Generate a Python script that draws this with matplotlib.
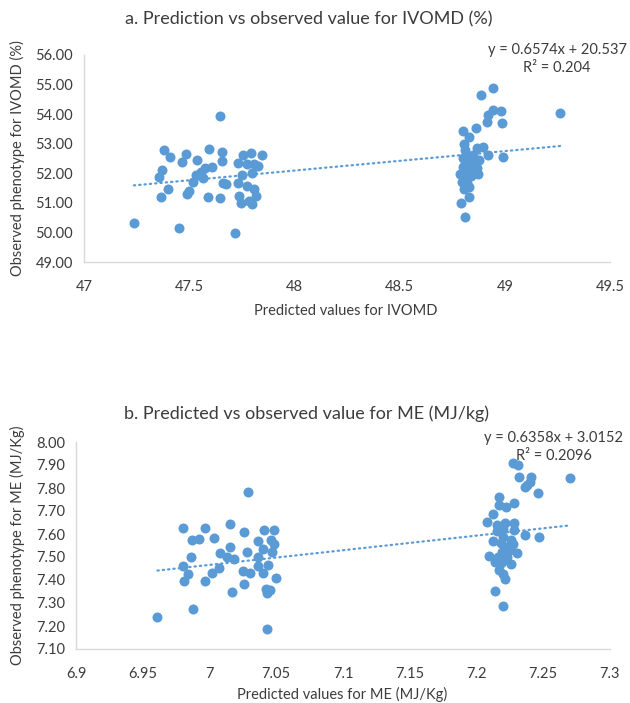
import numpy as np
from matplotlib import pyplot as plt
from matplotlib.ticker import FormatStrFormatter

# --- panel a: IVOMD (%) ---
ivomd_pred = [47.237, 47.451, 47.72, 47.645, 47.38, 47.41, 47.486, 47.464, 47.537, 47.592,
              47.655, 47.655, 47.606, 47.573, 47.557, 47.372, 47.355, 47.533, 47.565, 47.518,
              47.40, 47.497, 47.491, 47.366, 47.589, 47.645, 47.661, 47.676, 47.734, 47.758,
              47.794, 47.848, 47.773, 47.81, 47.825, 47.798, 47.751, 47.732, 47.775, 47.806,
              47.819, 47.739, 47.747, 47.786, 47.799,
              48.943, 48.888, 48.943, 48.981, 48.922, 48.914, 48.985, 49.263, 48.80, 48.861,
              48.828, 48.806, 48.812, 48.867, 48.895, 48.919, 48.993, 48.799, 48.848, 48.875,
              48.809, 48.836, 48.867, 48.788, 48.828, 48.872, 48.796, 48.82, 48.832, 48.807,
              48.831, 48.79, 48.809,
              48.82, 48.83, 48.85, 48.81, 48.84, 48.86, 48.80, 48.83, 48.84, 48.815]
ivomd_obs = [50.33, 50.14, 49.99, 53.94, 52.79, 52.56, 52.65, 52.38, 52.45, 52.81,
             52.71, 52.43, 52.22, 52.19, 52.05, 52.11, 51.88, 51.94, 51.85, 51.72,
             51.48, 51.41, 51.30, 51.19, 51.21, 51.16, 51.68, 51.63, 52.36, 52.61,
             52.68, 52.62, 52.31, 52.31, 52.25, 52.02, 51.94, 51.66, 51.58, 51.47,
             51.24, 51.24, 50.98, 51.06, 50.96,
             54.87, 54.65, 54.14, 54.11, 53.97, 53.74, 53.69, 54.03, 53.44, 53.52,
             53.24, 52.98, 52.79, 52.84, 52.90, 52.62, 52.54, 52.51, 52.62, 52.45,
             52.31, 52.22, 52.17, 51.98, 52.00, 51.97, 51.72, 51.66, 51.55, 51.46,
             51.21, 51.01, 50.53,
             52.40, 52.10, 52.30, 51.80, 51.90, 52.00, 52.20, 52.60, 52.50, 51.60]
ivomd_slope, ivomd_icpt = 0.6574, 20.537
ivomd_eq = "y = 0.6574x + 20.537\nR² = 0.204"
ivomd_yticks = [49, 50, 51, 52, 53, 54, 55, 56]
ivomd_xticks = [47, 47.5, 48, 48.5, 49, 49.5]
ivomd_xlabels = ['47', '47.5', '48', '48.5', '49', '49.5']

# --- panel b: ME (MJ/kg) ---
me_pred = [7.0286, 6.980, 6.997, 7.015, 6.987, 6.992, 7.003, 7.026, 7.041, 7.048,
           7.036, 7.046, 7.048, 7.015, 7.008, 6.986, 7.013, 7.018, 7.028, 7.040,
           7.047, 7.036, 6.980, 7.007, 7.036, 7.044, 6.984, 7.002, 7.025, 7.030,
           7.040, 6.981, 6.997, 7.026, 7.050, 7.042, 7.043, 7.045, 7.017, 6.988,
           6.961, 7.043,
           7.227, 7.231, 7.232, 7.241, 7.24, 7.236, 7.238, 7.246, 7.27, 7.217,
           7.217, 7.222, 7.228, 7.212, 7.208, 7.215, 7.221, 7.228, 7.215, 7.228,
           7.236, 7.247, 7.22, 7.226, 7.218, 7.223, 7.227, 7.219, 7.23, 7.209,
           7.216, 7.223, 7.218, 7.221, 7.217, 7.22, 7.221, 7.214, 7.22,
           7.214, 7.225, 7.22, 7.212, 7.226]
me_obs = [7.784, 7.627, 7.627, 7.644, 7.575, 7.579, 7.582, 7.608, 7.616, 7.616,
          7.570, 7.574, 7.556, 7.542, 7.517, 7.501, 7.501, 7.491, 7.52, 7.534,
          7.523, 7.501, 7.462, 7.45, 7.46, 7.465, 7.427, 7.431, 7.439, 7.429,
          7.429, 7.395, 7.396, 7.382, 7.41, 7.359, 7.342, 7.356, 7.346, 7.272,
          7.24, 7.186,
          7.907, 7.90, 7.849, 7.849, 7.827, 7.806, 7.813, 7.777, 7.842, 7.759,
          7.726, 7.716, 7.733, 7.687, 7.65, 7.639, 7.649, 7.646, 7.614, 7.617,
          7.595, 7.587, 7.588, 7.574, 7.559, 7.544, 7.556, 7.523, 7.518, 7.505,
          7.501, 7.501, 7.472, 7.486, 7.443, 7.424, 7.404, 7.35, 7.289,
          7.48, 7.53, 7.62, 7.57, 7.47]
me_slope, me_icpt = 0.6358, 3.0152
me_eq = "y = 0.6358x + 3.0152\nR² = 0.2096"
me_yticks = [7.1, 7.2, 7.3, 7.4, 7.5, 7.6, 7.7, 7.8, 7.9, 8.0]
me_xticks = [6.9, 6.95, 7.0, 7.05, 7.1, 7.15, 7.2, 7.25, 7.3]
me_xlabels = ['6.9', '6.95', '7', '7.05', '7.1', '7.15', '7.2', '7.25', '7.3']

plt.rcParams['font.family'] = ['Lato', 'DejaVu Sans']
blue = '#5B9BD5'
txt = '#3c3c3c'

W, H = 630, 703
fig = plt.figure(figsize=(W / 100, H / 100), dpi=100)


def panel(rect, x, y, slope, icpt, xticks, xlabels, yticks, fmt):
    ax = fig.add_axes(rect)
    ax.scatter(x, y, s=52, color=blue, zorder=3, linewidths=0)
    xs = np.array([min(x), max(x)])
    ax.plot(xs, slope * xs + icpt, color=blue, lw=1.6, linestyle=(0, (0.6, 1.8)),
            dash_capstyle='round', zorder=2)
    ax.set_xlim(xticks[0], xticks[-1])
    ax.set_ylim(yticks[0], yticks[-1])
    ax.set_xticks(xticks)
    ax.set_xticklabels(xlabels)
    ax.set_yticks(yticks)
    ax.yaxis.set_major_formatter(FormatStrFormatter(fmt))
    for s in ['top', 'right']:
        ax.spines[s].set_visible(False)
    for s in ['left', 'bottom']:
        ax.spines[s].set_color('#d9d9d9')
        ax.spines[s].set_linewidth(1)
    ax.tick_params(length=0, labelsize=10.5, colors=txt)
    ax.tick_params(axis='y', pad=8)
    ax.tick_params(axis='x', pad=13)
    return ax


ax1 = panel([84 / W, 1 - 262 / H, (610 - 84) / W, 207 / H],
            ivomd_pred, ivomd_obs, ivomd_slope, ivomd_icpt,
            ivomd_xticks, ivomd_xlabels, ivomd_yticks, '%.2f')
ax2 = panel([76 / W, 1 - 649 / H, (610 - 76) / W, 207 / H],
            me_pred, me_obs, me_slope, me_icpt,
            me_xticks, me_xlabels, me_yticks, '%.2f')

fig.text(309 / W, 1 - 19 / H, "a. Prediction vs observed value for IVOMD (%)",
         ha='center', va='center', fontsize=13, color=txt)
fig.text(306 / W, 1 - 414 / H, "b. Predicted vs observed value for ME (MJ/kg)",
         ha='center', va='center', fontsize=13, color=txt)
fig.text(346 / W, 1 - 311 / H, "Predicted values for IVOMD",
         ha='center', va='center', fontsize=10.5, color=txt)
fig.text(342 / W, 1 - 694 / H, "Predicted values for ME (MJ/Kg)",
         ha='center', va='center', fontsize=10.5, color=txt)
fig.text(17 / W, 1 - 158 / H, "Observed phenotype for IVOMD (%)", rotation=90,
         ha='center', va='center', fontsize=10.5, color=txt)
fig.text(17 / W, 1 - 545 / H, "Observed phenotype for ME (MJ/Kg)", rotation=90,
         ha='center', va='center', fontsize=10.5, color=txt)
fig.text(557 / W, 1 - 59 / H, ivomd_eq, ha='center', va='center', fontsize=10.5,
         color=txt, linespacing=1.35, multialignment='center')
fig.text(554 / W, 1 - 447 / H, me_eq, ha='center', va='center', fontsize=10.5,
         color=txt, linespacing=1.35, multialignment='center')

fig.savefig('out.png', dpi=100, facecolor='white')
